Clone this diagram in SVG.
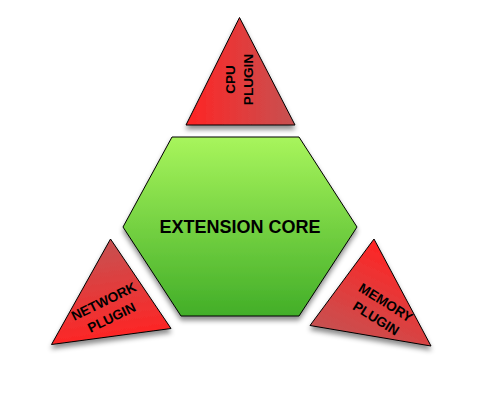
<svg xmlns="http://www.w3.org/2000/svg" width="483" height="415" viewBox="0 0 483 415">
<style>
.lbl{font-family:"Liberation Sans",Arial,sans-serif;font-weight:bold;fill:#000;text-anchor:middle}
.sm{font-size:13.6px}
.big{font-size:18px}
.shape{stroke:#000;stroke-width:1;filter:url(#sh)}
</style>
<defs>
<filter id="sh" x="-20%" y="-20%" width="140%" height="150%">
<feDropShadow dx="0" dy="4" stdDeviation="2.5" flood-color="#000" flood-opacity="0.45"/>
</filter>
<linearGradient id="gHex" x1="0" y1="0" x2="0" y2="1">
<stop offset="0" stop-color="#a8f55c"/>
<stop offset="1" stop-color="#42ae28"/>
</linearGradient>
<linearGradient id="gCpu" gradientUnits="userSpaceOnUse" x1="186" y1="110" x2="295" y2="110">
<stop offset="0" stop-color="#ff2424"/>
<stop offset="1" stop-color="#c65252"/>
</linearGradient>
<linearGradient id="gNet" gradientUnits="userSpaceOnUse" x1="105" y1="240" x2="120" y2="340">
<stop offset="0" stop-color="#c65252"/>
<stop offset="1" stop-color="#ff2424"/>
</linearGradient>
<linearGradient id="gMem" gradientUnits="userSpaceOnUse" x1="374" y1="240" x2="330" y2="335">
<stop offset="0" stop-color="#ff2424"/>
<stop offset="1" stop-color="#c65252"/>
</linearGradient>
</defs>
<g id="core">
<polygon class="shape" points="172,137 299,137 357,227 299,316 181,316 123,227" fill="url(#gHex)"/>
<text class="lbl big" x="240" y="233">EXTENSION CORE</text>
</g>
<g id="cpu-plugin">
<polygon class="shape" points="239.5,17.5 295,125 186,125" fill="url(#gCpu)"/>
<g transform="translate(239,79.5) rotate(-90)">
<text class="lbl sm" x="0" y="-4">CPU</text>
<text class="lbl sm" x="0" y="14">PLUGIN</text>
</g>
</g>
<g id="network-plugin">
<polygon class="shape" points="110.5,239 171,328.5 51.5,344.5" fill="url(#gNet)"/>
<g transform="translate(107.5,309.2) rotate(-26)">
<text class="lbl sm" x="0" y="-4">NETWORK</text>
<text class="lbl sm" x="0" y="14">PLUGIN</text>
</g>
</g>
<g id="memory-plugin">
<polygon class="shape" points="374,239 431,346 310,325.5" fill="url(#gMem)"/>
<g transform="translate(381.2,310) rotate(32)">
<text class="lbl sm" x="0" y="-4">MEMORY</text>
<text class="lbl sm" x="0" y="14.5">PLUGIN</text>
</g>
</g>
<g id="connectors"></g>
</svg>
